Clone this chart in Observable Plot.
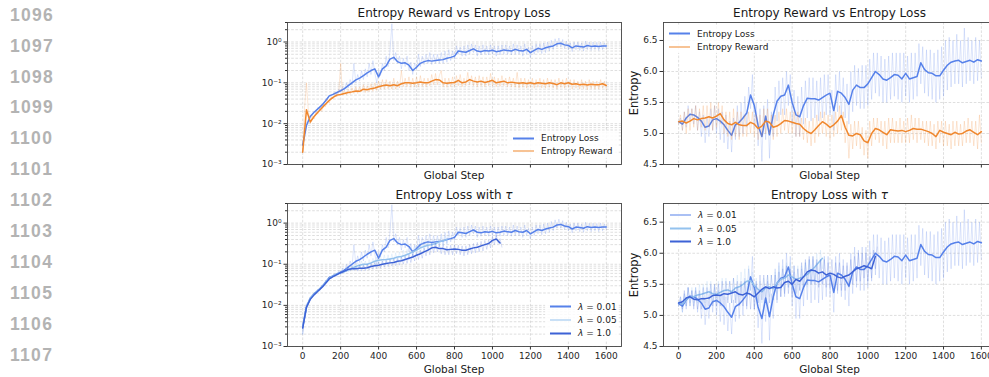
<!DOCTYPE html>
<html>
<head>
<meta charset="utf-8">
<script src="https://cdn.jsdelivr.net/npm/d3@7"></script>
<script src="https://cdn.jsdelivr.net/npm/@observablehq/plot@0.6"></script>
<style>
  html, body { margin:0; padding:0; background:#fff; overflow:hidden; }
  #root { position:relative; width:989px; height:377px; overflow:hidden; background:#fff; font-family:"DejaVu Sans", sans-serif; color:#1a1a1a; }
  .ln { position:absolute; left:10px; font-family:"Liberation Sans", Arial, sans-serif; font-weight:bold; font-size:17.5px; line-height:18px; letter-spacing:1.3px; color:#b3b3b3; }
  .panel { position:absolute; }
  .panel svg { overflow:visible; max-width:none !important; display:block; }
  .txt { position:absolute; white-space:nowrap; transform:translate(-50%,-50%); line-height:1; }
  .title { font-size:12px; }
  .xlab { font-size:10.5px; }
  .ylab { font-size:11.5px; transform:translate(-50%,-50%) rotate(-90deg); }
  .legbox { position:absolute; background:rgba(255,255,255,0.85); border-radius:2px; }
  .legrow { position:absolute; font-size:9px; line-height:1; white-space:nowrap; display:flex; align-items:center; transform:translateY(-50%); }
  .sw { display:inline-block; width:21px; height:1.5px; margin-right:7px; }
</style>
</head>
<body>
<div id="root"></div>
<script>
// ---------------- data ----------------
const lineNumbers = [1096, 1097, 1098, 1099, 1100, 1101, 1102, 1103, 1104, 1105, 1106, 1107];
const xTicks = [0, 200, 400, 600, 800, 1000, 1200, 1400, 1600];
const logTicks = [0.001, 0.01, 0.1, 1];
const logTickLabels = ["10\u207B\u00B3", "10\u207B\u00B2", "10\u207B\u00B9", "10\u2070"];
const logMinorTicks = [0.002,0.003,0.004,0.005,0.006,0.007,0.008,0.009,
  0.02,0.03,0.04,0.05,0.06,0.07,0.08,0.09,
  0.2,0.3,0.4,0.5,0.6,0.7,0.8,0.9, 2, 3];
const linTicks = [4.5, 5.0, 5.5, 6.0, 6.5];

const SMOOTH_STEP = 20;  // smoothed curves sampled every 20 global steps
const RAW_STEP = 10;     // raw curves sampled every 10 global steps

// Entropy loss (log panel) – smoothed, steps 0..1600
const lossLogSmooth = [
  0.003, 0.009, 0.015, 0.019, 0.023, 0.028, 0.036, 0.048, 0.052, 0.058,
  0.064, 0.072, 0.085, 0.1, 0.118, 0.13, 0.15, 0.175, 0.2, 0.22,
  0.14, 0.22, 0.26, 0.38, 0.42, 0.33, 0.3, 0.31, 0.27, 0.2,
  0.24, 0.3, 0.33, 0.35, 0.34, 0.35, 0.36, 0.37, 0.4, 0.42,
  0.45, 0.6, 0.58, 0.56, 0.62, 0.68, 0.6, 0.58, 0.62, 0.6,
  0.63, 0.58, 0.6, 0.64, 0.62, 0.6, 0.66, 0.62, 0.6, 0.66,
  0.55, 0.62, 0.7, 0.66, 0.72, 0.76, 0.8, 0.9, 0.93, 0.85,
  0.82, 0.72, 0.8, 0.78, 0.75, 0.82, 0.78, 0.8, 0.78, 0.8,
  0.8];
// Entropy reward (log panel) – smoothed
const rewardLogSmooth = [
  0.002, 0.022, 0.011, 0.015, 0.019, 0.024, 0.03, 0.037, 0.044, 0.05,
  0.052, 0.055, 0.058, 0.06, 0.063, 0.062, 0.07, 0.068, 0.072, 0.075,
  0.08, 0.085, 0.088, 0.085, 0.09, 0.085, 0.095, 0.1, 0.1, 0.098,
  0.1, 0.105, 0.1, 0.1, 0.11, 0.12, 0.118, 0.1, 0.098, 0.1,
  0.102, 0.115, 0.1, 0.105, 0.12, 0.11, 0.105, 0.11, 0.102, 0.108,
  0.115, 0.1, 0.105, 0.11, 0.1, 0.104, 0.1, 0.098, 0.1, 0.096,
  0.1, 0.095, 0.1, 0.098, 0.095, 0.1, 0.096, 0.09, 0.1, 0.095,
  0.1, 0.092, 0.095, 0.09, 0.092, 0.088, 0.092, 0.09, 0.09, 0.095,
  0.086];
// raw (log panel), steps 0..1600 every 10
const lossLogRaw = [
  0.002, 0.006, 0.011, 0.012, 0.016, 0.017, 0.02, 0.019, 0.025, 0.022,
  0.03, 0.028, 0.04, 0.038, 0.05, 0.046, 0.055, 0.06, 0.05, 0.07,
  0.058, 0.08, 0.065, 0.1, 0.075, 0.12, 0.09, 0.3, 0.1, 0.16,
  0.11, 0.2, 0.12, 0.22, 0.14, 0.3, 0.16, 0.35, 0.18, 0.1,
  0.2, 0.15, 0.3, 0.2, 0.45, 0.25, 0.6, 2.8, 0.35, 0.55,
  0.3, 0.45, 0.22, 0.4, 0.25, 0.45, 0.2, 0.32, 0.16, 0.3,
  0.22, 0.5, 0.25, 0.45, 0.28, 0.5, 0.3, 0.55, 0.28, 0.5,
  0.3, 0.5, 0.3, 0.55, 0.3, 0.6, 0.32, 0.65, 0.35, 0.6,
  0.38, 0.8, 0.5, 0.75, 0.45, 0.8, 0.45, 0.85, 0.5, 0.9,
  0.55, 0.85, 0.45, 0.8, 0.48, 0.85, 0.5, 0.8, 0.48, 0.85,
  0.5, 0.8, 0.45, 0.8, 0.48, 0.85, 0.5, 0.85, 0.5, 0.8,
  0.48, 0.9, 0.5, 0.85, 0.5, 0.8, 0.45, 0.9, 0.5, 0.75,
  0.42, 0.8, 0.5, 0.9, 0.55, 0.9, 0.52, 0.95, 0.55, 1.0,
  0.6, 1.1, 0.65, 1.2, 0.75, 1.25, 0.75, 1.15, 0.7, 1.05,
  0.65, 0.95, 0.58, 1.0, 0.65, 1.0, 0.62, 0.95, 0.6, 1.05,
  0.65, 1.0, 0.62, 1.0, 0.65, 0.98, 0.62, 1.0, 0.65, 0.95,
  0.7];
const rewardLogRaw = [
  0.002, 0.025, 0.1, 0.02, 0.01, 0.016, 0.013, 0.02, 0.017, 0.024,
  0.02, 0.03, 0.026, 0.04, 0.032, 0.045, 0.04, 0.055, 0.045, 0.06,
  0.3, 0.05, 0.065, 0.05, 0.07, 0.052, 0.075, 0.055, 0.08, 0.055,
  0.08, 0.06, 0.09, 0.058, 0.085, 0.06, 0.095, 0.062, 0.1, 0.065,
  0.11, 0.07, 0.12, 0.07, 0.12, 0.072, 0.11, 0.07, 0.13, 0.07,
  0.11, 0.075, 0.2, 0.08, 0.13, 0.08, 0.14, 0.078, 0.13, 0.08,
  0.14, 0.08, 0.15, 0.082, 0.13, 0.08, 0.13, 0.085, 0.16, 0.09,
  0.17, 0.09, 0.15, 0.2, 0.08, 0.13, 0.078, 0.13, 0.08, 0.14,
  0.082, 0.15, 0.085, 0.16, 0.08, 0.13, 0.085, 0.18, 0.09, 0.15,
  0.085, 0.14, 0.08, 0.15, 0.085, 0.14, 0.08, 0.14, 0.085, 0.17,
  0.085, 0.14, 0.08, 0.13, 0.082, 0.15, 0.085, 0.13, 0.08, 0.14,
  0.08, 0.13, 0.078, 0.18, 0.075, 0.13, 0.078, 0.13, 0.075, 0.12,
  0.078, 0.13, 0.074, 0.12, 0.078, 0.13, 0.075, 0.12, 0.074, 0.13,
  0.078, 0.12, 0.075, 0.12, 0.07, 0.13, 0.078, 0.12, 0.074, 0.13,
  0.078, 0.12, 0.07, 0.12, 0.074, 0.11, 0.07, 0.12, 0.072, 0.11,
  0.068, 0.12, 0.072, 0.11, 0.07, 0.11, 0.07, 0.12, 0.074, 0.11,
  0.068];

// Entropy (linear panel) – smoothed
const lossEntSmooth = [
  5.19, 5.15, 5.25, 5.31, 5.3, 5.26, 5.2, 5.1, 5.12, 5.22,
  5.24, 5.2, 5.14, 5.05, 4.97, 5.14, 5.18, 5.25, 5.33, 5.62,
  5.45, 5.13, 4.95, 5.28, 4.98, 5.3, 5.52, 5.6, 5.62, 5.78,
  5.5, 5.3, 5.27, 5.45, 5.57, 5.56, 5.56, 5.54, 5.58, 5.62,
  5.65, 5.37, 5.68, 5.65, 5.58, 5.47, 5.7, 5.78, 5.74, 5.74,
  5.8, 5.9, 6.0, 5.95, 5.88, 5.86, 5.9, 5.95, 5.94, 5.88,
  5.97, 5.88, 5.9, 5.92, 6.14, 6.03, 5.98, 5.97, 5.93, 5.93,
  6.02, 6.1, 6.15, 6.17, 6.18, 6.14, 6.16, 6.18, 6.15, 6.19,
  6.17];
const rewardEntSmooth = [
  5.19, 5.2, 5.17, 5.2, 5.24, 5.22, 5.24, 5.25, 5.27, 5.25,
  5.28, 5.32, 5.22, 5.16, 5.14, 5.18, 5.14, 5.13, 5.13, 5.18,
  5.15, 5.08, 5.12, 5.2, 5.18, 5.1, 5.12, 5.16, 5.21, 5.2,
  5.18, 5.16, 5.15, 5.08, 5.03, 5.0, 5.06, 5.13, 5.19, 5.15,
  5.1, 5.14, 5.2, 5.29, 5.1, 4.97, 4.96, 5.0, 4.98, 4.88,
  4.85, 5.0, 5.08, 5.06, 5.02, 4.98, 5.06, 5.05, 5.04, 5.05,
  5.03, 5.05, 5.08, 5.07, 5.07, 5.05, 5.03, 5.0, 4.95, 5.05,
  5.02, 5.0, 4.98, 5.02, 4.99, 5.0, 5.04, 5.06, 5.02, 4.98,
  5.03];
const lossEntRaw = [
  5.15, 5.25, 5.05, 5.35, 5.1, 5.45, 5.2, 5.4, 5.15, 5.45,
  5.05, 5.35, 4.95, 5.3, 4.85, 5.25, 4.95, 5.4, 5.05, 5.45,
  5.0, 5.4, 4.9, 5.35, 4.85, 5.3, 4.75, 5.2, 4.7, 5.25,
  4.9, 5.45, 4.95, 5.5, 5.0, 5.6, 5.1, 5.75, 5.4, 5.95,
  5.1, 5.5, 4.8, 5.4, 4.55, 5.45, 4.9, 5.55, 4.6, 5.35,
  4.95, 5.75, 5.2, 5.85, 5.3, 5.9, 5.3, 6.0, 5.45, 5.95,
  5.15, 5.7, 4.95, 5.6, 4.95, 5.75, 5.15, 5.85, 5.25, 5.9,
  5.2, 5.9, 5.25, 5.85, 5.2, 5.9, 5.25, 5.95, 5.3, 5.95,
  5.3, 5.7, 5.05, 5.95, 5.35, 6.0, 5.3, 5.9, 5.25, 5.8,
  5.15, 6.0, 5.35, 6.1, 5.45, 6.05, 5.4, 6.1, 5.4, 6.1,
  5.45, 6.2, 5.55, 6.3, 5.65, 6.3, 5.6, 6.25, 5.5, 6.2,
  5.5, 6.25, 5.55, 6.3, 5.6, 6.3, 5.55, 6.3, 5.5, 6.3,
  5.6, 6.25, 5.5, 6.3, 5.55, 6.3, 5.6, 6.45, 5.8, 6.4,
  5.65, 6.35, 5.6, 6.35, 5.55, 6.3, 5.5, 6.35, 5.55, 6.4,
  5.6, 6.5, 5.7, 6.55, 5.75, 6.5, 5.8, 6.6, 5.8, 6.5,
  5.75, 6.7, 5.8, 6.55, 5.85, 6.5, 5.8, 6.55, 5.85, 6.5,
  5.9];
const rewardEntRaw = [
  5.15, 5.3, 5.05, 5.35, 5.0, 5.4, 5.05, 5.4, 5.1, 5.45,
  5.05, 5.4, 5.1, 5.45, 5.05, 5.45, 5.1, 5.5, 5.05, 5.45,
  5.1, 5.5, 5.15, 5.45, 5.0, 5.35, 4.95, 5.35, 4.9, 5.4,
  4.95, 5.35, 4.9, 5.35, 4.95, 5.3, 4.95, 5.35, 5.0, 5.35,
  4.95, 5.3, 4.9, 5.3, 4.95, 5.4, 5.0, 5.4, 5.0, 5.3,
  4.9, 5.3, 4.95, 5.35, 5.0, 5.4, 5.05, 5.4, 5.0, 5.35,
  5.0, 5.35, 4.95, 5.35, 4.95, 5.25, 4.9, 5.25, 4.85, 5.2,
  4.8, 5.25, 4.85, 5.3, 4.95, 5.35, 5.0, 5.35, 4.95, 5.3,
  4.9, 5.3, 4.95, 5.35, 5.0, 5.45, 5.05, 5.35, 4.85, 5.2,
  4.6, 5.15, 4.75, 5.2, 4.8, 5.2, 4.75, 5.1, 4.65, 5.05,
  4.6, 5.2, 4.8, 5.25, 4.9, 5.25, 4.85, 5.2, 4.8, 5.2,
  4.75, 5.25, 4.85, 5.25, 4.85, 5.2, 4.85, 5.25, 4.85, 5.2,
  4.85, 5.25, 4.85, 5.3, 4.9, 5.25, 4.85, 5.25, 4.9, 5.2,
  4.85, 5.2, 4.8, 5.2, 4.8, 5.15, 4.75, 5.2, 4.85, 5.2,
  4.8, 5.2, 4.8, 5.15, 4.75, 5.2, 4.8, 5.2, 4.8, 5.15,
  4.8, 5.2, 4.85, 5.25, 4.85, 5.2, 4.8, 5.2, 4.75, 5.3,
  4.85];

// λ = 0.05 and λ = 1.0 runs (λ = 0.01 is the entropy-loss run above)
const lam005LogSmooth = [
  0.003, 0.009, 0.015, 0.019, 0.023, 0.028, 0.036, 0.046, 0.052, 0.058,
  0.062, 0.066, 0.072, 0.08, 0.088, 0.095, 0.1, 0.1, 0.108, 0.118,
  0.125, 0.128, 0.13, 0.135, 0.14, 0.15, 0.155, 0.165, 0.18, 0.2,
  0.22, 0.25, 0.27, 0.29, 0.3, 0.32, 0.35, 0.37, 0.4];
const lam1LogSmooth = [
  0.0028, 0.009, 0.014, 0.018, 0.022, 0.027, 0.034, 0.044, 0.05, 0.056,
  0.062, 0.068, 0.075, 0.078, 0.078, 0.08, 0.08, 0.082, 0.088, 0.092,
  0.095, 0.1, 0.104, 0.108, 0.11, 0.118, 0.122, 0.13, 0.14, 0.15,
  0.165, 0.18, 0.2, 0.22, 0.25, 0.26, 0.24, 0.24, 0.225, 0.23,
  0.235, 0.23, 0.22, 0.22, 0.235, 0.25, 0.26, 0.28, 0.3, 0.32,
  0.38, 0.41, 0.33];
const lam005LogRaw = [
  0.002, 0.007, 0.01, 0.013, 0.015, 0.018, 0.02, 0.021, 0.024, 0.025,
  0.03, 0.032, 0.038, 0.04, 0.048, 0.045, 0.055, 0.05, 0.06, 0.065,
  0.055, 0.075, 0.06, 0.08, 0.065, 0.09, 0.07, 0.1, 0.075, 0.11,
  0.08, 0.12, 0.085, 0.12, 0.085, 0.13, 0.09, 0.14, 0.095, 0.15,
  0.1, 0.16, 0.1, 0.17, 0.1, 0.17, 0.105, 0.18, 0.11, 0.19,
  0.11, 0.2, 0.12, 0.22, 0.125, 0.23, 0.13, 0.25, 0.15, 0.28,
  0.16, 0.3, 0.18, 0.34, 0.2, 0.36, 0.21, 0.38, 0.23, 0.4,
  0.24, 0.42, 0.26, 0.45, 0.28, 0.48, 0.3, 0.5];
const lam1LogRaw = [
  0.002, 0.006, 0.01, 0.012, 0.015, 0.017, 0.02, 0.02, 0.024, 0.024,
  0.03, 0.03, 0.037, 0.038, 0.048, 0.045, 0.055, 0.05, 0.06, 0.058,
  0.068, 0.06, 0.075, 0.065, 0.085, 0.068, 0.09, 0.07, 0.09, 0.068,
  0.095, 0.068, 0.095, 0.07, 0.1, 0.072, 0.105, 0.075, 0.11, 0.078,
  0.115, 0.08, 0.12, 0.085, 0.125, 0.088, 0.13, 0.09, 0.135, 0.092,
  0.14, 0.095, 0.15, 0.1, 0.16, 0.105, 0.17, 0.11, 0.18, 0.12,
  0.2, 0.13, 0.22, 0.14, 0.25, 0.16, 0.28, 0.17, 0.32, 0.19,
  0.33, 0.2, 0.3, 0.18, 0.3, 0.17, 0.28, 0.17, 0.29, 0.17,
  0.3, 0.18, 0.29, 0.17, 0.28, 0.16, 0.28, 0.17, 0.3, 0.18,
  0.32, 0.19, 0.34, 0.2, 0.36, 0.21, 0.38, 0.23, 0.4, 0.25,
  0.48, 0.3, 0.52, 0.32, 0.42, 0.26];
const lam005EntSmooth = [
  5.2, 5.18, 5.25, 5.3, 5.3, 5.33, 5.34, 5.36, 5.38, 5.35,
  5.34, 5.37, 5.4, 5.41, 5.38, 5.44, 5.46, 5.5, 5.55, 5.56,
  5.48, 5.42, 5.38, 5.44, 5.46, 5.43, 5.52, 5.58, 5.6, 5.65,
  5.62, 5.58, 5.6, 5.62, 5.66, 5.72, 5.78, 5.85, 5.92];
const lam1EntSmooth = [
  5.2, 5.22, 5.28, 5.3, 5.26, 5.25, 5.27, 5.27, 5.28, 5.32,
  5.33, 5.32, 5.35, 5.34, 5.36, 5.38, 5.34, 5.33, 5.36, 5.34,
  5.3, 5.36, 5.42, 5.46, 5.43, 5.46, 5.44, 5.45, 5.53, 5.55,
  5.5, 5.58, 5.55, 5.62, 5.7, 5.73, 5.72, 5.68, 5.7, 5.65,
  5.68, 5.66, 5.62, 5.6, 5.63, 5.65, 5.7, 5.75, 5.77, 5.8,
  5.78, 5.75, 5.95];
const lam005EntRaw = [
  5.15, 5.3, 5.05, 5.35, 5.15, 5.45, 5.15, 5.45, 5.2, 5.45,
  5.2, 5.5, 5.2, 5.5, 5.2, 5.55, 5.25, 5.55, 5.2, 5.5,
  5.2, 5.55, 5.2, 5.6, 5.25, 5.6, 5.25, 5.55, 5.2, 5.6,
  5.25, 5.65, 5.3, 5.7, 5.35, 5.75, 5.35, 5.8, 5.4, 5.7,
  5.3, 5.6, 5.2, 5.55, 5.2, 5.6, 5.25, 5.65, 5.3, 5.65,
  5.25, 5.7, 5.35, 5.8, 5.4, 5.8, 5.4, 5.85, 5.45, 5.85,
  5.4, 5.8, 5.35, 5.8, 5.4, 5.8, 5.45, 5.85, 5.45, 5.9,
  5.5, 5.95, 5.55, 6.0, 5.65, 6.05, 5.75, 5.95];
const lam1EntRaw = [
  5.15, 5.3, 5.1, 5.4, 5.15, 5.45, 5.15, 5.4, 5.1, 5.4,
  5.1, 5.4, 5.1, 5.45, 5.1, 5.45, 5.15, 5.5, 5.15, 5.5,
  5.15, 5.5, 5.15, 5.55, 5.15, 5.55, 5.2, 5.55, 5.2, 5.6,
  5.2, 5.55, 5.15, 5.55, 5.15, 5.55, 5.15, 5.55, 5.1, 5.5,
  5.1, 5.55, 5.2, 5.65, 5.25, 5.65, 5.25, 5.65, 5.2, 5.65,
  5.25, 5.65, 5.25, 5.7, 5.3, 5.75, 5.35, 5.8, 5.35, 5.75,
  5.3, 5.8, 5.35, 5.75, 5.4, 5.85, 5.45, 5.9, 5.5, 5.95,
  5.5, 5.95, 5.5, 5.9, 5.45, 5.9, 5.5, 5.9, 5.45, 5.85,
  5.45, 5.9, 5.45, 5.85, 5.4, 5.85, 5.4, 5.8, 5.4, 5.85,
  5.45, 5.9, 5.5, 5.95, 5.55, 6.0, 5.55, 6.0, 5.6, 6.0,
  5.55, 5.95, 5.6, 6.05, 5.75, 6.1];

// colours
const cLoss = "#5681ea";
const cReward = "#f0872d";
const c005 = "#93c2ee";
const c1 = "#3d62d6";

// ---------------- drawing ----------------
const root = document.getElementById("root");
const rows = (vals, step) => vals.map((v, i) => ({step: i * step, value: v}));
const gridStyle = {stroke: "#a8a8a8", strokeOpacity: 0.55, strokeWidth: 0.7, strokeDasharray: "2.6,1.6"};

function makePanel(cfg) {
  const marks = [
    Plot.gridX(xTicks, gridStyle),
    Plot.gridY(cfg.yGrid, gridStyle)
  ];
  for (const s of cfg.series) {
    marks.push(Plot.line(rows(s.raw, RAW_STEP), {x: "step", y: "value", stroke: s.color, strokeOpacity: 0.22, strokeWidth: 0.9, clip: true}));
    marks.push(Plot.line(rows(s.smooth, SMOOTH_STEP), {x: "step", y: "value", stroke: s.color, strokeWidth: 1.5, clip: true}));
  }
  marks.push(Plot.axisX(xTicks, {tickSize: 3.5, tickPadding: 2.5, tickFormat: cfg.xLabels ? (d => String(d)) : (() => ""), label: null, stroke: "#333"}));
  if (cfg.yMinor) marks.push(Plot.axisY(cfg.yMinor, {tickSize: 2, tickFormat: () => "", label: null, stroke: "#333"}));
  marks.push(Plot.axisY(cfg.yTicks, {tickSize: 3.5, tickPadding: 2.5, tickFormat: cfg.yFmt, label: null, stroke: "#333"}));
  marks.push(Plot.frame({stroke: "#444", strokeWidth: 0.9}));
  const svg = Plot.plot({
    width: cfg.width, height: cfg.height,
    marginLeft: cfg.ml, marginRight: cfg.mr, marginTop: cfg.mt, marginBottom: cfg.mb,
    x: {domain: [-80, 1680], label: null},
    y: Object.assign({label: null}, cfg.y),
    style: {fontFamily: "DejaVu Sans, sans-serif", fontSize: "9px", color: "#262626", background: "transparent", overflow: "visible", maxWidth: "none"},
    marks
  });
  svg.style.maxWidth = "none";
  svg.style.width = cfg.width + "px";
  svg.style.height = cfg.height + "px";
  const holder = document.createElement("div");
  holder.className = "panel";
  holder.style.left = cfg.left + "px";
  holder.style.top = cfg.top + "px";
  holder.style.width = cfg.width + "px";
  holder.style.height = cfg.height + "px";
  holder.appendChild(svg);
  root.appendChild(holder);
}

function addText(cls, html, x, y) {
  const d = document.createElement("div");
  d.className = "txt " + cls;
  d.innerHTML = html;
  d.style.left = x + "px";
  d.style.top = y + "px";
  root.appendChild(d);
}

function addLegend(box, rowsSpec, swLeft) {
  const b = document.createElement("div");
  b.className = "legbox";
  Object.assign(b.style, {left: box[0] + "px", top: box[1] + "px", width: box[2] + "px", height: box[3] + "px"});
  root.appendChild(b);
  for (const r of rowsSpec) {
    const d = document.createElement("div");
    d.className = "legrow";
    d.style.left = swLeft + "px";
    d.style.top = r.y + "px";
    d.innerHTML = `<span class="sw" style="background:${r.color}"></span><span>${r.label}</span>`;
    root.appendChild(d);
  }
}

const logFmt = d => logTickLabels[logTicks.indexOf(d)] ?? "";
const linFmt = d => d.toFixed(1);

// line numbers
lineNumbers.forEach((n, i) => {
  const d = document.createElement("div");
  d.className = "ln";
  d.textContent = n;
  d.style.top = (14.5 + 30.93 * i - 8.8) + "px";
  root.appendChild(d);
});

// top-left: log entropy loss vs reward
makePanel({left: 240, top: 0, width: 390, height: 180, ml: 47, mr: 9, mt: 22, mb: 16,
  y: {type: "log", domain: [0.001, 3]}, yTicks: logTicks, yMinor: logMinorTicks, yGrid: logTicks.concat(logMinorTicks), yFmt: logFmt, xLabels: false,
  series: [{raw: lossLogRaw, smooth: lossLogSmooth, color: cLoss}, {raw: rewardLogRaw, smooth: rewardLogSmooth, color: cReward}]});
// top-right: entropy
makePanel({left: 620, top: 0, width: 390, height: 180, ml: 43, mr: 14, mt: 22, mb: 16,
  y: {domain: [4.5, 6.79]}, yTicks: linTicks, yGrid: linTicks, yFmt: linFmt, xLabels: false,
  series: [{raw: lossEntRaw, smooth: lossEntSmooth, color: cLoss}, {raw: rewardEntRaw, smooth: rewardEntSmooth, color: cReward}]});
// bottom-left: log, λ runs
makePanel({left: 240, top: 180, width: 390, height: 197, ml: 47, mr: 9, mt: 23, mb: 31,
  y: {type: "log", domain: [0.001, 3]}, yTicks: logTicks, yMinor: logMinorTicks, yGrid: logTicks.concat(logMinorTicks), yFmt: logFmt, xLabels: true,
  series: [{raw: lossLogRaw, smooth: lossLogSmooth, color: cLoss}, {raw: lam005LogRaw, smooth: lam005LogSmooth, color: c005}, {raw: lam1LogRaw, smooth: lam1LogSmooth, color: c1}]});
// bottom-right: entropy, λ runs
makePanel({left: 620, top: 180, width: 390, height: 197, ml: 43, mr: 14, mt: 23, mb: 31,
  y: {domain: [4.5, 6.8]}, yTicks: linTicks, yGrid: linTicks, yFmt: linFmt, xLabels: true,
  series: [{raw: lossEntRaw, smooth: lossEntSmooth, color: cLoss}, {raw: lam005EntRaw, smooth: lam005EntSmooth, color: c005}, {raw: lam1EntRaw, smooth: lam1EntSmooth, color: c1}]});

// titles and labels
addText("title", "Entropy Reward vs Entropy Loss", 454, 12.5);
addText("title", "Entropy Reward vs Entropy Loss", 829.5, 12.5);
addText("title", "Entropy Loss with <i>\u03C4</i>", 454, 195);
addText("title", "Entropy Loss with <i>\u03C4</i>", 829.5, 195);
addText("xlab", "Global Step", 454, 174.5);
addText("xlab", "Global Step", 829.5, 174.5);
addText("xlab", "Global Step", 454, 368.5);
addText("xlab", "Global Step", 829.5, 368.5);
addText("ylab", "Entropy", 635, 93);
addText("ylab", "Entropy", 635, 274.5);

// legends
const lam = v => `<i>\u03BB</i> = ${v}`;
addLegend([507, 131, 111, 27], [{y: 138.3, color: cLoss, label: "Entropy Loss"}, {y: 151, color: cReward, label: "Entropy Reward"}], 513);
addLegend([664, 26, 92, 27], [{y: 33.5, color: cLoss, label: "Entropy Loss"}, {y: 46.8, color: cReward, label: "Entropy Reward"}], 669);
addLegend([545, 299, 73, 41], [{y: 306.7, color: cLoss, label: lam("0.01")}, {y: 320.2, color: c005, label: lam("0.05")}, {y: 333.3, color: c1, label: lam("1.0")}], 550);
addLegend([665, 207, 72, 41], [{y: 215, color: cLoss, label: lam("0.01")}, {y: 228.5, color: c005, label: lam("0.05")}, {y: 241.7, color: c1, label: lam("1.0")}], 670);
</script>
</body>
</html>
